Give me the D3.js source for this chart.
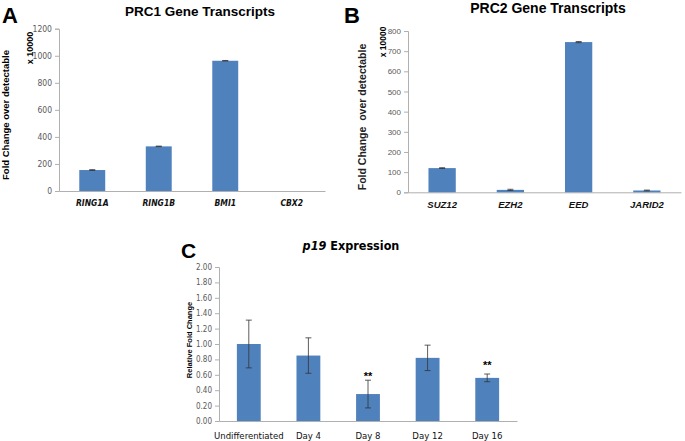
<!DOCTYPE html>
<html><head><meta charset="utf-8">
<script src="https://cdn.jsdelivr.net/npm/d3@7"></script>
<style>
body{margin:0;background:#fff;}
svg{display:block;}
</style></head><body>
<svg id="chart" width="685" height="441"></svg>
<script>
// ---- Data ----
const prc1Genes = ["RING1A", "RING1B", "BMI1", "CBX2"];
const prc1Values = [155, 330, 963, 0];
const prc1Errors = [3, 2, 2, 0];
const prc1Ticks = [0, 200, 400, 600, 800, 1000, 1200];

const prc2Genes = ["SUZ12", "EZH2", "EED", "JARID2"];
const prc2Values = [120, 12, 745, 9];
const prc2Errors = [2, 3, 3, 2];
const prc2Ticks = [0, 100, 200, 300, 400, 500, 600, 700, 800];

const p19Days = ["Undifferentiated", "Day 4", "Day 8", "Day 12", "Day 16"];
const p19Values = [1.00, 0.85, 0.35, 0.82, 0.56];
const p19Errors = [0.31, 0.23, 0.18, 0.165, 0.05];
const p19Sig = ["", "", "**", "", "**"];
const p19SigY = [0, 0, 0.62, 0, 0.77];
const p19Ticks = [0, 0.2, 0.4, 0.6, 0.8, 1.0, 1.2, 1.4, 1.6, 1.8, 2.0];

const barColor = "#4f81bd";
const svg = d3.select("#chart");
const narrow = "'Liberation Sans Narrow','DejaVu Sans Condensed',Arial,sans-serif";
const arial = "'Liberation Sans',Arial,sans-serif";

function panel(cfg) {
  const g = svg.append("g");
  const x = d3.scaleBand().domain(cfg.cats).range([cfg.x0, cfg.x1])
    .paddingInner(cfg.pad).paddingOuter(cfg.pad / 2);
  const y = d3.scaleLinear().domain([0, cfg.ymax]).range([cfg.y0, cfg.y1]);

  // y axis
  const ya = d3.axisLeft(y).tickValues(cfg.ticks).tickSize(4).tickPadding(3)
    .tickFormat(cfg.fmt);
  const yg = g.append("g").attr("transform", `translate(${cfg.x0},0)`).call(ya);
  yg.select(".domain").attr("stroke", "#b0b0b0");
  yg.selectAll(".tick line").attr("stroke", "#b0b0b0");
  yg.selectAll(".tick text").attr("fill", "#5a5a5a").style("font-family", cfg.tickFont)
    .style("font-size", cfg.tickSize + "px");

  // x axis
  const xa = d3.axisBottom(x).tickSize(0).tickPadding(cfg.xPad);
  const xg = g.append("g").attr("transform", `translate(0,${cfg.y0})`).call(xa);
  xg.select(".domain").attr("stroke", "#b0b0b0");
  xg.selectAll(".tick text").attr("fill", "#111")
    .style("font-family", cfg.xFont).style("font-size", cfg.xSize + "px")
    .style("font-weight", cfg.xWeight).style("font-style", cfg.xStyle);

  // bars
  g.selectAll("rect.bar").data(cfg.values).join("rect").attr("class", "bar")
    .attr("x", (d, i) => x(cfg.cats[i]))
    .attr("width", x.bandwidth())
    .attr("y", d => y(d))
    .attr("height", d => cfg.y0 - y(d))
    .attr("fill", barColor);

  // error bars
  const cap = cfg.cap;
  cfg.values.forEach((v, i) => {
    const e = cfg.errors[i];
    if (!e) return;
    const cx = x(cfg.cats[i]) + x.bandwidth() / 2;
    g.append("line").attr("x1", cx).attr("x2", cx).attr("y1", y(v - e)).attr("y2", y(v + e))
      .attr("stroke", "#333").attr("stroke-width", 0.8);
    [v - e, v + e].forEach(t => g.append("line").attr("x1", cx - cap).attr("x2", cx + cap)
      .attr("y1", y(t)).attr("y2", y(t)).attr("stroke", "#333").attr("stroke-width", 0.8));
  });
  return {g, x, y};
}

// ---- Panel A ----
const A = panel({cats: prc1Genes, values: prc1Values, errors: prc1Errors, ticks: prc1Ticks,
  ymax: 1200, x0: 59, x1: 325, y0: 191, y1: 28.7, pad: 0.61, cap: 3,
  fmt: d3.format("d"), tickFont: narrow, tickSize: 8.5,
  xFont: narrow, xSize: 8.5, xWeight: "bold", xStyle: "italic", xPad: 9});
svg.append("text").attr("x", 2).attr("y", 23).text("A")
  .style("font-family", arial).style("font-weight", "bold").style("font-size", "22px");
svg.append("text").attr("x", 200).attr("y", 16).attr("text-anchor", "middle").text("PRC1 Gene Transcripts")
  .style("font-family", arial).style("font-weight", "bold").style("font-size", "13.5px");
svg.append("text").attr("transform", "translate(9,115) rotate(-90)").attr("text-anchor", "middle")
  .text("Fold Change over detectable").style("font-family", arial).style("font-weight", "bold").style("font-size", "9.5px");
svg.append("text").attr("transform", "translate(33,48) rotate(-90)").attr("text-anchor", "middle")
  .text("x 10000").style("font-family", arial).style("font-weight", "bold").style("font-size", "9px");

// ---- Panel B ----
const B = panel({cats: prc2Genes, values: prc2Values, errors: prc2Errors, ticks: prc2Ticks,
  ymax: 800, x0: 408, x1: 681, y0: 192.3, y1: 31, pad: 0.6, cap: 3,
  fmt: d3.format("d"), tickFont: arial, tickSize: 8,
  xFont: arial, xSize: 9.5, xWeight: "bold", xStyle: "italic", xPad: 9});
svg.append("text").attr("x", 344).attr("y", 23).text("B")
  .style("font-family", arial).style("font-weight", "bold").style("font-size", "22px");
svg.append("text").attr("x", 548).attr("y", 13).attr("text-anchor", "middle").text("PRC2 Gene Transcripts")
  .style("font-family", arial).style("font-weight", "bold").style("font-size", "14px");
svg.append("text").attr("transform", "translate(366,117) rotate(-90)").attr("text-anchor", "middle")
  .text("Fold Change  over detectable").attr("xml:space", "preserve")
  .style("white-space", "pre").style("font-family", arial).style("font-weight", "600").style("font-size", "10.5px").attr("fill", "#222");
svg.append("text").attr("transform", "translate(386,42) rotate(-90)").attr("text-anchor", "middle")
  .text("x 10000").style("font-family", arial).style("font-weight", "bold").style("font-size", "8.5px");

// ---- Panel C ----
const C = panel({cats: p19Days, values: p19Values, errors: p19Errors, ticks: p19Ticks,
  ymax: 2, x0: 219, x1: 517, y0: 421, y1: 267, pad: 0.6, cap: 3,
  fmt: d3.format(".2f"), tickFont: narrow, tickSize: 8,
  xFont: narrow, xSize: 9.5, xWeight: "normal", xStyle: "normal", xPad: 11});
C.g.selectAll("text.sig").data(p19Sig).join("text").attr("class", "sig")
  .attr("x", (d, i) => C.x(p19Days[i]) + C.x.bandwidth() / 2)
  .attr("y", (d, i) => C.y(p19SigY[i]) + 7)
  .attr("text-anchor", "middle").text(d => d)
  .style("font-family", arial).style("font-weight", "bold").style("font-size", "11px");
svg.append("text").attr("x", 181).attr("y", 258).text("C")
  .style("font-family", arial).style("font-weight", "bold").style("font-size", "21px");
const ct = svg.append("text").attr("x", 351).attr("y", 250).attr("text-anchor", "middle")
  .style("font-family", narrow).style("font-weight", "bold").style("font-size", "12.5px");
ct.append("tspan").style("font-style", "italic").text("p19");
ct.append("tspan").text(" Expression");
svg.append("text").attr("transform", "translate(192,340) rotate(-90)").attr("text-anchor", "middle")
  .text("Relative Fold Change").style("font-family", arial).style("font-weight", "bold").style("font-size", "7.5px");
</script>
</body></html>
